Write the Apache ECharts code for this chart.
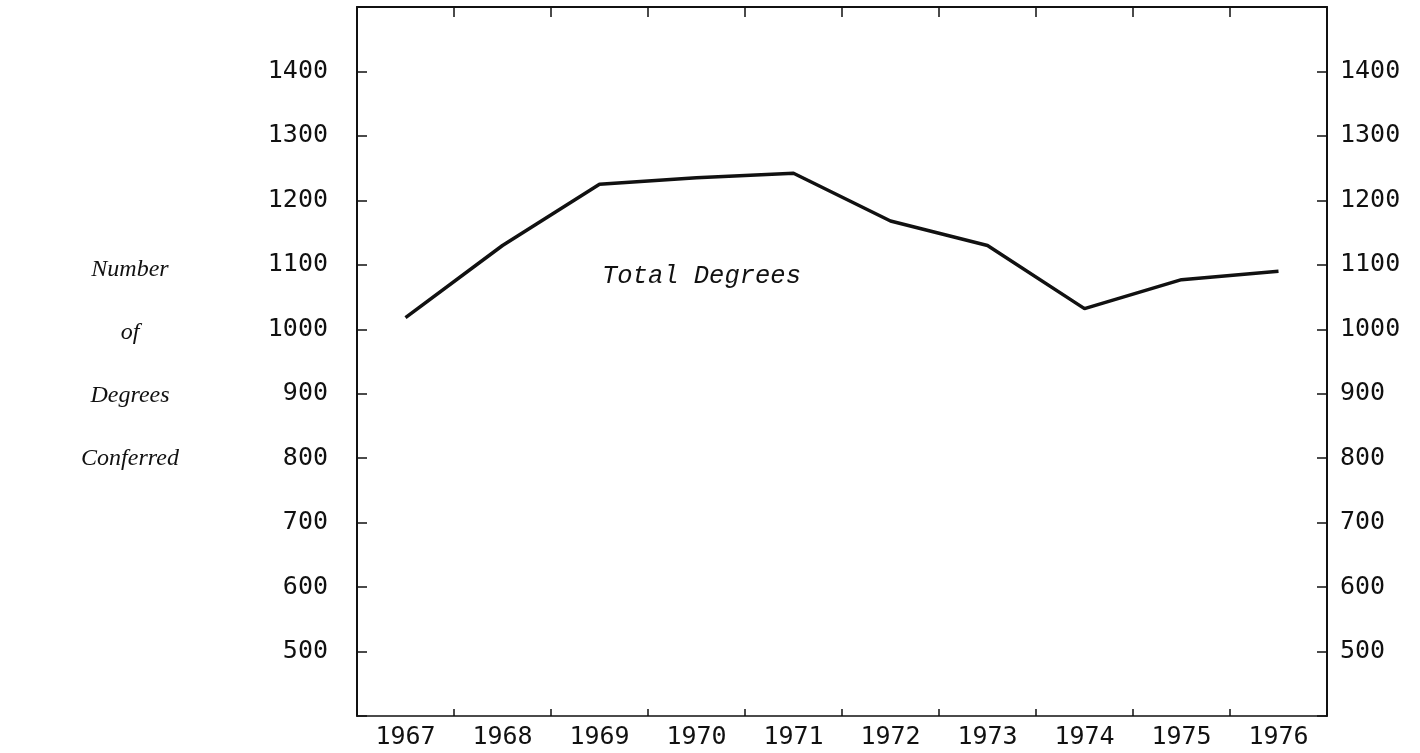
<!DOCTYPE html>
<html>
<head>
<meta charset="utf-8">
<title>Total Degrees</title>
<script src="https://cdn.jsdelivr.net/npm/echarts@6/dist/echarts.min.js"></script>
<style>
html, body { margin: 0; padding: 0; background: #fff; }
#chart { width: 1420px; height: 753px; }
</style>
</head>
<body>
<div id="chart"></div>
<script>
// data
var years = ["1967", "1968", "1969", "1970", "1971", "1972", "1973", "1974", "1975", "1976"];
var totalDegrees = [1018, 1130, 1225, 1235, 1242, 1168, 1130, 1032, 1077, 1090];
var yTicks = [500, 600, 700, 800, 900, 1000, 1100, 1200, 1300, 1400];
var yTitle = ["Number", "of", "Degrees", "Conferred"];

var ink = "#111";
var numFont = "DejaVu Sans Mono";
var monoItalic = "Liberation Mono";
var titleFont = "Liberation Serif";

function tickLabel(v) {
  return yTicks.indexOf(v) >= 0 ? String(v) : "";
}

var chart = echarts.init(document.getElementById("chart"));

var yLine = { show: true, lineStyle: { color: ink, width: 2 } };
var yTick = { show: true, inside: true, length: 10, lineStyle: { color: ink, width: 1.5 } };

chart.setOption({
  animation: false,
  backgroundColor: "#fff",
  grid: { left: 357, right: 93, top: 7, bottom: 37 },
  xAxis: [
    {
      type: "category",
      data: years,
      boundaryGap: true,
      position: "bottom",
      axisLine: { lineStyle: { color: ink, width: 1.5 } },
      axisTick: { show: true, interval: 0, inside: true, length: 7, lineStyle: { color: ink, width: 1.5 } },
      axisLabel: { color: ink, fontFamily: numFont, fontSize: 25, margin: 9, interval: 0 }
    },
    {
      type: "category",
      data: years,
      boundaryGap: true,
      position: "top",
      axisLine: { show: true, lineStyle: { color: ink, width: 2 } },
      axisTick: { show: true, interval: 0, inside: true, length: 10, lineStyle: { color: ink, width: 1.5 } },
      axisLabel: { show: false }
    }
  ],
  yAxis: [
    {
      type: "value",
      min: 400,
      max: 1500,
      interval: 100,
      position: "left",
      axisLine: yLine,
      axisTick: yTick,
      splitLine: { show: false },
      axisLabel: { color: ink, fontFamily: numFont, fontSize: 25, margin: 29, formatter: tickLabel }
    },
    {
      type: "value",
      min: 400,
      max: 1500,
      interval: 100,
      position: "right",
      axisLine: yLine,
      axisTick: yTick,
      splitLine: { show: false },
      axisLabel: { color: ink, fontFamily: numFont, fontSize: 25, margin: 13, formatter: tickLabel }
    }
  ],
  graphic: yTitle.map(function (t, i) {
    return {
      type: "text",
      x: 130,
      y: 270 + i * 63,
      style: {
        text: t,
        fill: ink,
        font: "italic 24px '" + titleFont + "'",
        align: "center",
        verticalAlign: "middle"
      }
    };
  }).concat([{
    type: "text",
    x: 602,
    y: 276,
    style: {
      text: "Total Degrees",
      fill: ink,
      font: "italic 25.5px '" + monoItalic + "'",
      verticalAlign: "middle"
    }
  }]),
  series: [
    {
      name: "Total Degrees",
      type: "line",
      data: totalDegrees,
      showSymbol: false,
      lineStyle: { color: ink, width: 3.5 }
    }
  ]
});
</script>
</body>
</html>
